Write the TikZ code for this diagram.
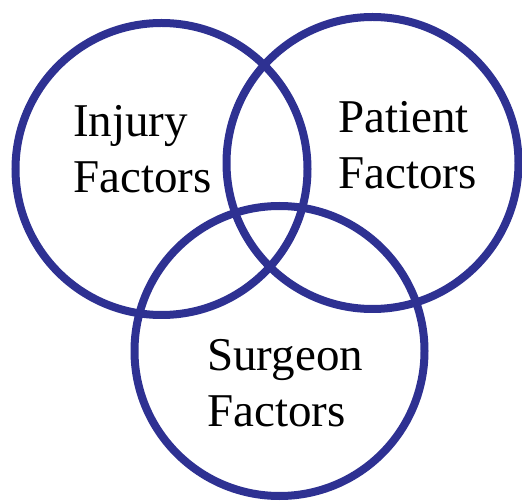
\documentclass[tikz,border=0pt]{standalone}
\usepackage{fontspec}
\setmainfont{Liberation Serif}
\definecolor{vennblue}{RGB}{46,49,146}
\begin{document}
\begin{tikzpicture}[x=1pt,y=-1pt,
  ring/.style={circle,draw=vennblue,line width=8pt,inner sep=0pt,minimum size=#1},
  lbl/.style={anchor=base west,inner sep=0pt,align=left,font=\fontsize{47}{56}\selectfont}]
\useasboundingbox (0,0) rectangle (522,502);
\node[ring=292pt] (injury) at (161.5,169) {};
\node[ring=292pt] (patient) at (372.5,163) {};
\node[ring=290pt] (surgeon) at (279.5,351) {};
\node[lbl] (injurytxt) at (73,193) {Injury\\Factors};
\node[lbl] (patienttxt) at (338,189) {Patient\\Factors};
\node[lbl] (surgeontxt) at (207,426) {Surgeon\\Factors};
\end{tikzpicture}
\end{document}
